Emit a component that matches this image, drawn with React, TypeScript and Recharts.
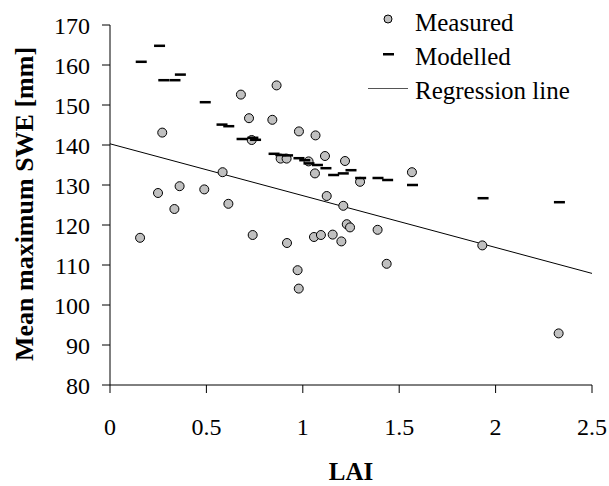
import React from 'react';
import { ComposedChart, Scatter, XAxis, YAxis } from 'recharts';

const measuredLAI = [0.156, 0.249, 0.271, 0.334, 0.361, 0.489, 0.584, 0.614, 0.679, 0.721, 0.735, 0.74, 0.842, 0.864, 0.885, 0.916, 0.918, 0.973, 0.979, 0.98, 1.03, 1.058, 1.063, 1.066, 1.094, 1.115, 1.124, 1.155, 1.2, 1.21, 1.219, 1.228, 1.245, 1.297, 1.388, 1.435, 1.566, 1.931, 2.327];
const measuredSWE = [116.8, 128, 143.1, 124, 129.7, 128.9, 133.2, 125.3, 152.6, 146.7, 141.25, 117.5, 146.3, 154.9, 136.6, 136.6, 115.5, 108.7, 104.1, 143.4, 135.9, 117, 132.9, 142.4, 117.5, 137.25, 127.25, 117.6, 115.9, 124.8, 136, 120.2, 119.4, 130.8, 118.8, 110.3, 133.2, 114.9, 92.9];

const modelledLAI = [0.162, 0.257, 0.279, 0.337, 0.365, 0.494, 0.581, 0.616, 0.685, 0.741, 0.755, 0.851, 0.886, 0.921, 0.98, 1.01, 1.032, 1.076, 1.12, 1.16, 1.21, 1.25, 1.3, 1.39, 1.44, 1.569, 1.935, 2.331];
const modelledSWE = [160.8, 164.8, 156.2, 156.2, 157.6, 150.7, 145.1, 144.7, 141.5, 141.8, 141.3, 137.8, 137.5, 137.4, 136.7, 136.2, 135.4, 135, 134.2, 132.5, 132.9, 133.7, 131.75, 131.75, 131.25, 130, 126.7, 125.7];

const regressionLAI = [0, 2.5];
const regressionSWE = [140.3, 107.9];

const xTicks = [0, 0.5, 1, 1.5, 2, 2.5];
const yTicks = [80, 90, 100, 110, 120, 130, 140, 150, 160, 170];

const legendLabels = ['Measured', 'Modelled', 'Regression line'];

const measuredData = measuredLAI.map((x, i) => ({ x, y: measuredSWE[i] }));
const modelledData = modelledLAI.map((x, i) => ({ x, y: modelledSWE[i] }));
const regressionData = regressionLAI.map((x, i) => ({ x, y: regressionSWE[i] }));

const FONT = 'Times New Roman';

const CircleShape = (props: any) => (
  <circle cx={props.cx} cy={props.cy} r={4.5} fill="#c0c0c0" stroke="#000" strokeWidth={1} />
);

const DashShape = (props: any) => (
  <rect x={props.cx - 5.5} y={props.cy - 1.25} width={11} height={2.5} fill="#000" />
);

const NoShape = () => <g />;

const YTitle = (props: any) => {
  const vb = props.viewBox || { x: 0, y: 25, width: 110, height: 360 };
  const cy = vb.y + vb.height / 2 - 1;
  return (
    <text
      x={33}
      y={cy}
      transform={`rotate(-90, 33, ${cy})`}
      textAnchor="middle"
      fontFamily={FONT}
      fontSize={26}
      fontWeight="bold"
      fill="#000"
    >
      Mean maximum SWE [mm]
    </text>
  );
};

const XTitle = (props: any) => {
  const vb = props.viewBox || { x: 110, y: 385, width: 482, height: 101 };
  return (
    <text
      x={vb.x + vb.width / 2}
      y={vb.y + 95}
      textAnchor="middle"
      fontFamily={FONT}
      fontSize={25}
      fontWeight="bold"
      fill="#000"
    >
      LAI
    </text>
  );
};

export default function App() {
  return (
    <div style={{ position: 'absolute', left: 0, top: 0, width: 609, height: 486, fontFamily: FONT }}>
      <ComposedChart width={609} height={486} margin={{ top: 25, right: 17, bottom: 0, left: 0 }}>
        <XAxis
          type="number"
          dataKey="x"
          domain={[0, 2.5]}
          ticks={xTicks}
          allowDataOverflow
          interval={0}
          height={101}
          tickSize={8}
          tickMargin={25}
          axisLine={{ stroke: '#000', strokeWidth: 1 }}
          tickLine={{ stroke: '#000', strokeWidth: 1 }}
          tick={{ fill: '#000', fontSize: 24, fontFamily: FONT }}
          label={<XTitle />}
        />
        <YAxis
          type="number"
          dataKey="y"
          domain={[80, 170]}
          ticks={yTicks}
          allowDataOverflow
          interval={0}
          width={110}
          tickSize={8}
          tickMargin={12}
          axisLine={{ stroke: '#000', strokeWidth: 1 }}
          tickLine={{ stroke: '#000', strokeWidth: 1 }}
          tick={{ fill: '#000', fontSize: 24, fontFamily: FONT }}
          label={<YTitle />}
        />
        <Scatter
          name="Regression line"
          data={regressionData}
          line={{ stroke: '#000', strokeWidth: 1 }}
          shape={NoShape}
          isAnimationActive={false}
        />
        <Scatter name="Measured" data={measuredData} shape={CircleShape} isAnimationActive={false} />
        <Scatter name="Modelled" data={modelledData} shape={DashShape} isAnimationActive={false} />
        <g className="legend">
          <circle cx={388} cy={19} r={4} fill="#c0c0c0" stroke="#000" strokeWidth={1} />
          <text x={415} y={31} fontFamily={FONT} fontSize={25} fill="#000">{legendLabels[0]}</text>
          <rect x={383} y={53} width={11} height={2.5} fill="#000" />
          <text x={415} y={65} fontFamily={FONT} fontSize={25} fill="#000">{legendLabels[1]}</text>
          <line x1={368} y1={88.5} x2={408} y2={88.5} stroke="#555" strokeWidth={1} />
          <text x={415} y={99} fontFamily={FONT} fontSize={25} fill="#000">{legendLabels[2]}</text>
        </g>
      </ComposedChart>
    </div>
  );
}
